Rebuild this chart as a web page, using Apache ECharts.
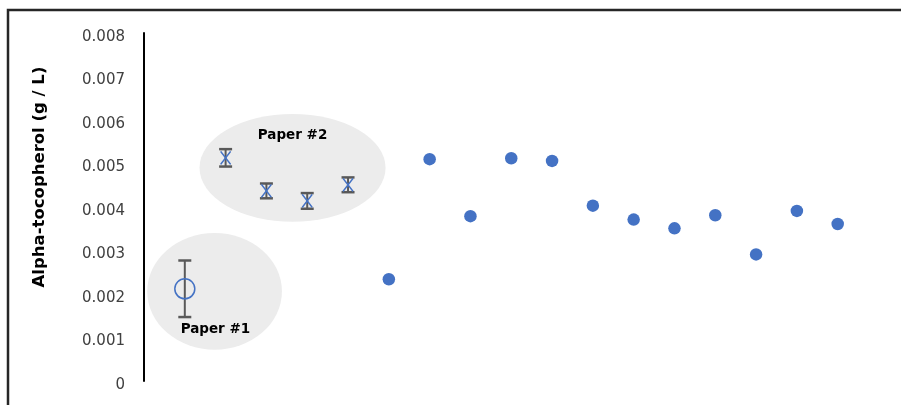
<!DOCTYPE html>
<html>
<head>
<meta charset="utf-8">
<script src="https://cdn.jsdelivr.net/npm/echarts@6/dist/echarts.min.js"></script>
<style>
  html, body { margin: 0; padding: 0; background: #fff; }
  #chart { width: 901px; height: 405px; }
</style>
</head>
<body>
<div id="chart"></div>
<script>
// Alpha-tocopherol concentration (g / L)
const yTicks = [0, 0.001, 0.002, 0.003, 0.004, 0.005, 0.006, 0.007, 0.008];
const yTitle = 'Alpha-tocopherol (g / L)';

// Paper #1: single value with error bar
const paper1X = [1];
const paper1Y = [0.00212];
const paper1Err = [0.00065];

// Paper #2: four values with error bars
const paper2X = [2, 3, 4, 5];
const paper2Y = [0.00513, 0.00437, 0.00414, 0.00451];
const paper2Err = [0.00020, 0.00017, 0.00018, 0.00017];

// Measured samples
const sampleX = [6, 7, 8, 9, 10, 11, 12, 13, 14, 15, 16, 17];
const sampleY = [0.00234, 0.00510, 0.00379, 0.00512, 0.00506, 0.00403,
                 0.00371, 0.00351, 0.00381, 0.00291, 0.00391, 0.00361];

// Grouping ellipses (centre x, centre y, radius x, radius y) in data units
const groupLabels = ['Paper #1', 'Paper #2'];
const groupCx = [1.73, 3.64];
const groupCy = [0.00206, 0.00490];
const groupRx = [1.65, 2.28];
const groupRy = [0.00134, 0.00124];
const labelX = [1.75, 3.64];
const labelY = [0.00118, 0.00565];

const BLUE = '#4472c4';
const BAR = '#595959';

const chart = echarts.init(document.getElementById('chart'));

function errorBarSeries(xs, ys, errs, capHalf) {
  return {
    type: 'custom',
    z: 3,
    silent: true,
    data: xs.map((x, i) => [x, ys[i], errs[i]]),
    renderItem: function (params, api) {
      const x = api.value(0), y = api.value(1), e = api.value(2);
      const top = api.coord([x, y + e]);
      const bot = api.coord([x, y - e]);
      const capStyle = { stroke: BAR, lineWidth: 2.5 };
      return {
        type: 'group',
        children: [
          { type: 'line', shape: { x1: top[0], y1: top[1], x2: bot[0], y2: bot[1] }, style: { stroke: BAR, lineWidth: 2 } },
          { type: 'line', shape: { x1: top[0] - capHalf, y1: top[1], x2: top[0] + capHalf, y2: top[1] }, style: capStyle },
          { type: 'line', shape: { x1: bot[0] - capHalf, y1: bot[1], x2: bot[0] + capHalf, y2: bot[1] }, style: capStyle }
        ]
      };
    }
  };
}

const option = {
  animation: false,
  backgroundColor: '#ffffff',
  grid: { left: 144, right: 22.5, top: 33, bottom: 24 },
  xAxis: {
    type: 'value', min: 0, max: 18, show: false
  },
  yAxis: {
    type: 'value', min: 0, max: 0.008, interval: 0.001,
    axisLine: { show: true, lineStyle: { color: '#000', width: 2 } },
    axisTick: { show: false },
    splitLine: { show: false },
    axisLabel: {
      margin: 19,
      verticalAlign: 'top',
      lineHeight: 8,
      fontFamily: 'DejaVu Sans', fontSize: 15, color: '#404040',
      formatter: function (v) {
        const t = yTicks.find(k => Math.abs(k - v) < 1e-9);
        return t === 0 ? '0' : t.toFixed(3);
      }
    }
  },
  graphic: [
    {
      type: 'rect',
      silent: true,
      z: 100,
      shape: { x: 8, y: 10, width: 1200, height: 1200 },
      style: { fill: 'none', stroke: '#262626', lineWidth: 2.5 }
    },
    {
      type: 'text',
      silent: true,
      x: 40, y: 177,
      rotation: Math.PI / 2,
      style: {
        text: yTitle,
        fontFamily: 'DejaVu Sans', fontWeight: 'bold', fontSize: 16.5,
        fill: '#000', align: 'center', verticalAlign: 'middle'
      }
    }
  ],
  series: [
    {
      // grey grouping ellipses
      type: 'custom',
      z: 1,
      silent: true,
      data: groupCx.map((cx, i) => [cx, groupCy[i], groupRx[i], groupRy[i]]),
      renderItem: function (params, api) {
        const c = api.coord([api.value(0), api.value(1)]);
        const sz = api.size([api.value(2), api.value(3)]);
        return {
          type: 'circle',
          x: c[0], y: c[1],
          scaleX: sz[0] / sz[1], scaleY: 1,
          shape: { cx: 0, cy: 0, r: sz[1] },
          style: { fill: '#ececec' }
        };
      }
    },
    {
      // group labels
      type: 'custom',
      z: 6,
      silent: true,
      data: labelX.map((x, i) => [x, labelY[i], i]),
      renderItem: function (params, api) {
        const c = api.coord([api.value(0), api.value(1)]);
        return {
          type: 'text',
          x: c[0], y: c[1],
          style: {
            text: groupLabels[api.value(2)],
            fontFamily: 'DejaVu Sans', fontWeight: 'bold', fontSize: 13.5,
            fill: '#000', align: 'center', verticalAlign: 'middle'
          }
        };
      }
    },
    errorBarSeries(paper1X, paper1Y, paper1Err, 6.5),
    errorBarSeries(paper2X, paper2Y, paper2Err, 6.5),
    {
      type: 'scatter',
      z: 4,
      symbol: 'circle',
      symbolSize: 20,
      itemStyle: { color: 'rgba(0,0,0,0)', borderColor: BLUE, borderWidth: 1.5, opacity: 1 },
      data: paper1X.map((x, i) => [x, paper1Y[i]])
    },
    {
      type: 'scatter',
      z: 4,
      symbol: 'path://M0,0L10,10M10,0L0,10',
      symbolSize: [10, 13],
      itemStyle: { color: 'none', borderColor: BLUE, borderWidth: 1.5, opacity: 1 },
      data: paper2X.map((x, i) => [x, paper2Y[i]])
    },
    {
      type: 'scatter',
      z: 4,
      symbol: 'circle',
      symbolSize: 12.5,
      itemStyle: { color: BLUE, opacity: 1 },
      data: sampleX.map((x, i) => [x, sampleY[i]])
    }
  ]
};

chart.setOption(option);
</script>
</body>
</html>
